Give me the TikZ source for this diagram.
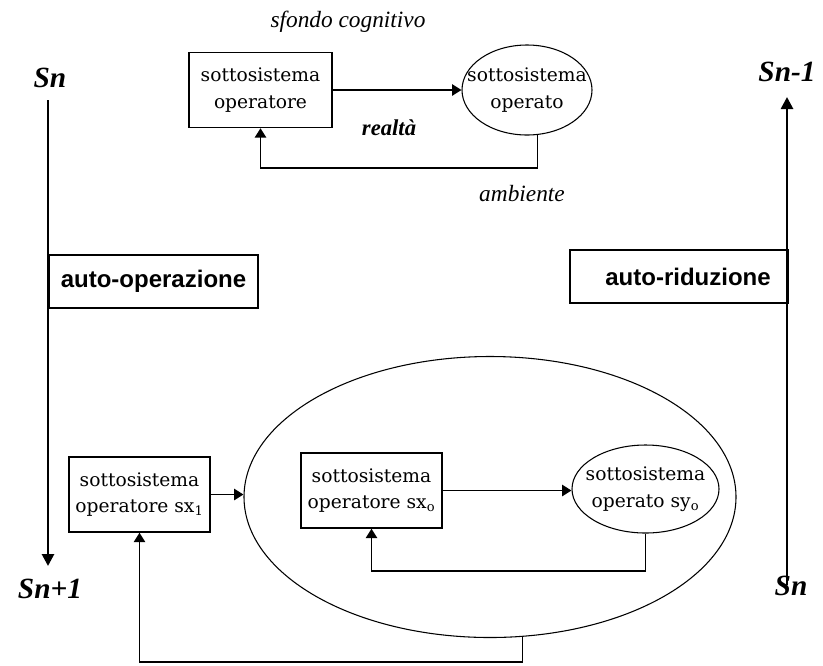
\documentclass[tikz,border=0pt]{standalone}
\usepackage{fontspec}
\setmainfont{DejaVu Serif}
\newfontfamily\lserif{Liberation Serif}
\newfontfamily\lsans{Liberation Sans}
\usetikzlibrary{arrows.meta,shapes.geometric}
\begin{document}
\begin{tikzpicture}[x=0.75pt,y=-0.75pt,
  boxtxt/.style={font=\fontsize{14}{20}\selectfont, align=center, inner sep=0pt},
  sysbox/.style={boxtxt, draw, line width=1.1pt, minimum width=141*0.75pt, minimum height=75*0.75pt},
  sysell/.style={draw, ellipse, line width=0.8pt, inner sep=0pt},
  autobox/.style={draw, line width=2pt, inner sep=0pt},
  autotxt/.style={font=\lsans\bfseries\fontsize{18}{20}\selectfont, inner sep=0pt},
  snlab/.style={font=\lserif\bfseries\itshape\fontsize{22}{24}\selectfont, inner sep=0pt},
  itlab/.style={font=\lserif\itshape\fontsize{17.5}{20}\selectfont, inner sep=0pt},
  conn/.style={line width=1.1pt},
  tip/.style={-{Triangle[length=7pt,width=8.5pt]}},
  bigtip/.style={line width=2pt,-{Triangle[length=9pt,width=9pt]}}
]
\useasboundingbox (0,0) rectangle (823,665);

% ---- left column
\node[snlab] (snA) at (50,78) {Sn};
\node[snlab] (snB) at (50,589) {Sn+1};
\coordinate (lt) at (48,100);
\coordinate (lb) at (48,566);
\draw[bigtip] (lt) -- (lb);
\node[autobox, minimum width=209*0.75pt, minimum height=53*0.75pt] (aop) at (153.5,281.5) {};
\node[autotxt] (aoptxt) at (aop.center) {auto-operazione};

% ---- right column
\node[snlab] (snC) at (787,72) {Sn-1};
\node[snlab] (snD) at (791,586) {Sn};
\coordinate (rb) at (787,585);
\coordinate (rt) at (787,97);
\draw[bigtip] (rb) -- (rt);
\node[autobox, minimum width=218*0.75pt, minimum height=53*0.75pt] (ard) at (679,276.5) {};
\node[autotxt] (ardtxt) at (688,276.5) {auto-riduzione};

% ---- top system
\node[itlab] (sfondo) at (348,22) {sfondo cognitivo};
\node[sysbox, minimum width=143*0.75pt] (op1) at (260.5,90) {sottosistema\\operatore};
\node[sysell, minimum width=130*0.75pt, minimum height=90*0.75pt] (od1) at (527,90) {};
\node[boxtxt] (od1txt) at (od1.center) {sottosistema\\operato};
\draw[conn,tip] (op1.east) -- (od1.west);
\node[font=\lserif\bfseries\itshape\fontsize{17}{20}\selectfont, inner sep=0pt] (realta) at (389,128) {realtà};
\coordinate (f1) at (260.5,168);
\draw[conn,tip] (od1.-77) |- (f1) -- (op1.south);
\node[itlab] (amb) at (522,194) {ambiente};

% ---- bottom system
\node[sysbox] (sx1) at (139.5,494.5) {sottosistema\\operatore sx\textsubscript{1}};
\node[sysell, minimum width=492*0.75pt, minimum height=281*0.75pt] (big) at (490,497) {};
\draw[conn,tip] (sx1.east) -- (sx1.east -| big.west);
\node[sysbox] (sx0) at (371.5,490.5) {sottosistema\\operatore sx\textsubscript{o}};
\node[sysell, minimum width=147*0.75pt, minimum height=88*0.75pt] (sy0) at (645.5,489) {};
\node[boxtxt] (sy0txt) at (sy0.center) {sottosistema\\operato sy\textsubscript{o}};
\draw[conn,tip] (sx0.east) -- (sx0.east -| sy0.west);
\coordinate (f2) at (371.5,571);
\draw[conn,tip] (sy0.south) |- (f2) -- (sx0.south);
\coordinate (f3) at (139.5,662);
\draw[conn,tip] (big.-77) |- (f3) -- (sx1.south);
\end{tikzpicture}
\end{document}
